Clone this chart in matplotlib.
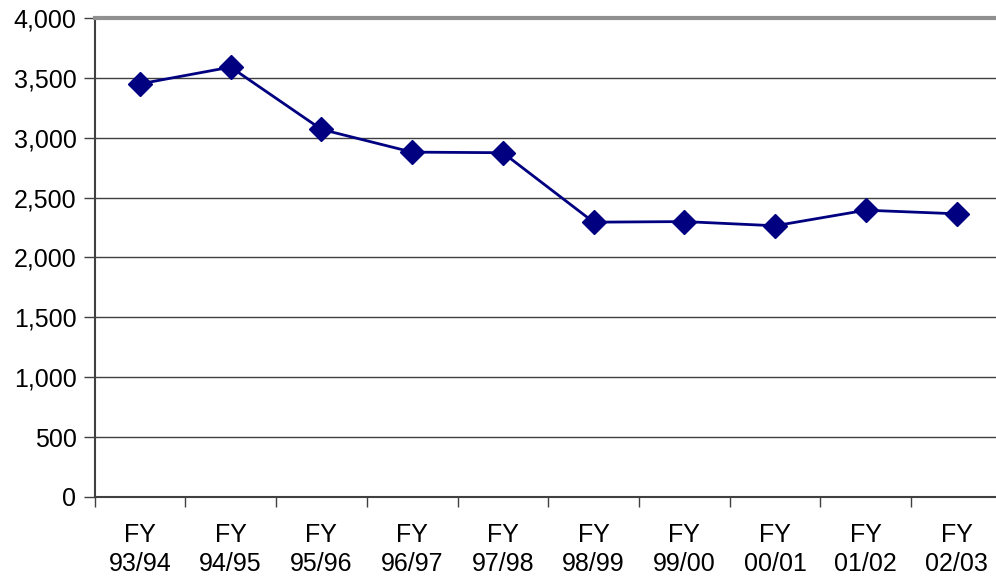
import numpy as np
import matplotlib.pyplot as plt

plt.rcParams['font.family'] = ['Liberation Sans', 'DejaVu Sans']

# fiscal years and values
years = ['FY\n93/94', 'FY\n94/95', 'FY\n95/96', 'FY\n96/97', 'FY\n97/98',
         'FY\n98/99', 'FY\n99/00', 'FY\n00/01', 'FY\n01/02', 'FY\n02/03']
values = [3450, 3590, 3070, 2880, 2875, 2295, 2300, 2265, 2395, 2365]
yticks = [0, 500, 1000, 1500, 2000, 2500, 3000, 3500, 4000]

fig = plt.figure(figsize=(9.96, 5.81), dpi=100)
ax = fig.add_axes([0.0949, 0.1446, 0.9111, 0.8244])

x = np.arange(len(years))
ax.plot(x, values, color='#000080', lw=2, marker='D', markersize=12,
        zorder=3, clip_on=False)

ax.set_xlim(-0.5, len(years) - 0.5)
ax.set_ylim(0, 4000)

# horizontal gridlines
for v in yticks[1:-1]:
    ax.axhline(v, color='#404040', lw=1, zorder=1)

ax.set_yticks(yticks)
ax.set_yticklabels(['{:,}'.format(v) for v in yticks], fontsize=18)
ax.tick_params(axis='y', direction='out', length=8, width=1, pad=5,
               color='#404040')

# category labels in middle, ticks at boundaries
ax.set_xticks(x)
ax.set_xticklabels(years, fontsize=18, linespacing=1.25)
ax.tick_params(axis='x', which='major', length=0, pad=19)
ax.set_xticks(np.arange(len(years) + 1) - 0.5, minor=True)
ax.tick_params(axis='x', which='minor', direction='out', length=7, width=1,
               color='#404040')

for s in ['left', 'bottom']:
    ax.spines[s].set_color('#404040')
    ax.spines[s].set_linewidth(1.5)
ax.spines['top'].set_color('#909090')
ax.spines['top'].set_linewidth(3)
ax.spines['right'].set_visible(False)

fig.savefig('out.png', dpi=100)
